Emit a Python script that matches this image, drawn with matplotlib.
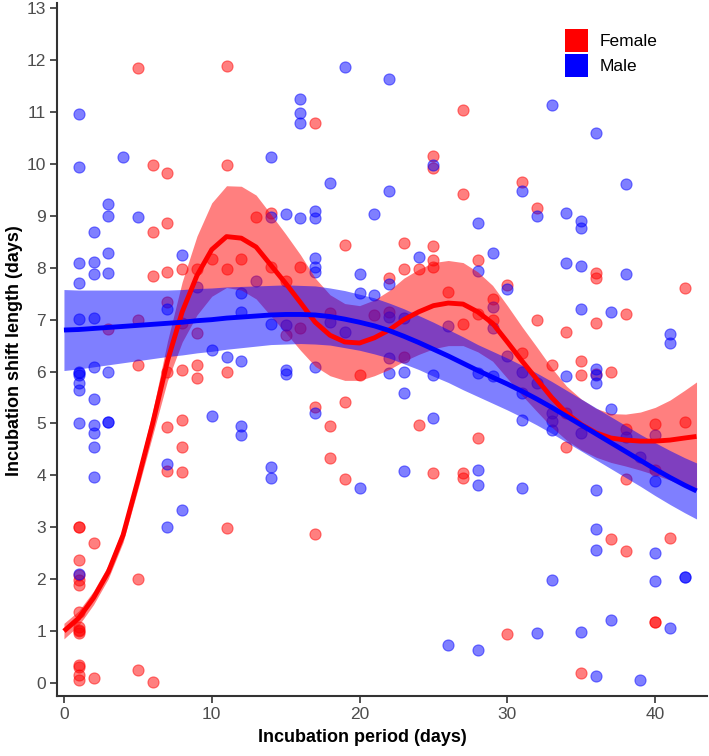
import matplotlib
matplotlib.use("Agg")
import matplotlib.pyplot as plt
from matplotlib.patches import Patch
import numpy as np

plt.rcParams["font.family"] = ["Liberation Sans", "DejaVu Sans"]

# scatter points: (incubation day, shift length)
female_x = [1, 1, 1, 1, 1, 1, 1, 1, 1, 1, 1, 1, 1, 1, 1,
            2, 2, 3, 5, 5, 5, 5, 5, 6, 6, 6, 6,
            7, 7, 7, 7, 7, 7, 7, 8, 8, 8, 8, 8, 8,
            9, 9, 9, 9, 10, 11, 11, 11, 11, 11, 12, 13, 14, 14,
            15, 15, 16, 16, 17, 17, 17, 18, 18, 18, 19, 19, 19,
            20, 21, 22, 22, 23, 23, 23, 24, 24,
            25, 25, 25, 25, 25, 25, 26, 27, 27, 27, 27, 27,
            28, 28, 28, 29, 29, 30, 30, 31, 31, 32, 32, 33,
            34, 34, 34, 35, 35, 35, 36, 36, 36, 36, 37, 37,
            38, 38, 38, 38, 40, 40, 40, 40, 41, 42, 42]
female_y = [3.0, 3.0, 2.37, 2.08, 1.98, 1.89, 1.37, 1.08, 1.02, 0.96, 1.0, 0.35, 0.3, 0.15, 0.06,
            2.7, 0.1, 6.82, 11.85, 7.0, 6.13, 2.0, 0.26, 9.98, 8.69, 7.84, 0.02,
            9.83, 8.86, 7.92, 7.34, 6.0, 4.93, 4.09, 7.97, 6.93, 6.03, 5.07, 4.55, 4.07,
            7.97, 6.74, 6.13, 5.88, 8.17, 11.89, 9.98, 7.97, 6.0, 2.99, 8.17, 8.98, 9.05, 8.02,
            7.75, 6.71, 8.02, 6.84, 10.79, 5.32, 2.87, 7.13, 4.95, 4.34, 8.44, 5.41, 3.93,
            5.93, 7.09, 7.8, 7.15, 8.48, 7.97, 6.28, 7.97, 4.97,
            10.15, 9.93, 8.42, 8.15, 8.02, 4.04, 7.53, 11.04, 9.42, 6.92, 4.04, 3.95,
            8.15, 7.1, 4.72, 7.4, 7.0, 7.67, 0.94, 9.66, 6.36, 9.15, 7.0, 6.12,
            6.77, 5.2, 4.55, 6.2, 5.93, 0.19, 7.9, 7.8, 6.94, 5.95, 6.0, 2.77,
            7.11, 3.93, 2.54, 4.89, 4.99, 1.18, 1.18, 4.1, 2.79, 7.61, 5.03]

male_x = [1, 1, 1, 1, 1, 1, 1, 1, 1, 1, 1, 1,
          2, 2, 2, 2, 2, 2, 2, 2, 2, 2,
          3, 3, 3, 3, 3, 3, 3, 4, 5, 7, 7, 7, 8, 8, 9, 10, 10, 11,
          12, 12, 12, 12, 12, 13, 14, 14, 14, 14, 14,
          15, 15, 15, 15, 16, 16, 16, 16,
          17, 17, 17, 17, 17, 17, 17, 18, 18, 19, 19, 20, 20, 20, 21, 21,
          22, 22, 22, 22, 22, 22, 23, 23, 23, 23, 24, 25, 25, 25, 26, 26,
          28, 28, 28, 28, 28, 28, 29, 29, 29, 29, 30, 30,
          31, 31, 31, 31, 31, 32, 32, 32, 33, 33, 33, 33, 33,
          34, 34, 34, 35, 35, 35, 35, 35, 35,
          36, 36, 36, 36, 36, 36, 36, 36, 37, 37, 37, 38, 38, 38,
          39, 39, 40, 40, 40, 40, 41, 41, 41, 42, 42]
male_y = [10.96, 9.94, 8.09, 7.7, 7.01, 6.0, 5.97, 5.93, 5.78, 5.65, 5.0, 2.1,
          8.68, 8.11, 7.88, 7.04, 6.09, 5.47, 4.97, 4.82, 4.55, 3.97,
          9.23, 9.0, 8.28, 7.9, 6.0, 5.03, 5.03, 10.13, 8.98, 7.2, 4.22, 3.0, 8.24, 3.33, 7.62, 6.42, 5.14, 6.28,
          7.52, 7.14, 6.2, 4.95, 4.78, 7.75, 10.13, 8.98, 6.91, 4.16, 3.95,
          9.03, 6.9, 6.03, 5.95, 11.26, 10.99, 10.78, 8.96,
          9.1, 8.95, 8.19, 8.02, 7.92, 6.08, 5.2, 9.63, 6.96, 11.86, 6.77, 7.87, 7.51, 3.76, 9.03, 7.47,
          11.63, 9.47, 7.68, 7.05, 6.26, 5.97, 7.03, 6.0, 5.58, 4.09, 8.21, 9.98, 5.93, 5.1, 6.88, 0.73,
          8.86, 7.93, 5.97, 4.1, 3.81, 0.64, 8.28, 7.24, 6.84, 5.92, 7.59, 6.3,
          9.48, 6.0, 5.58, 5.07, 3.76, 9.0, 5.78, 0.96, 11.13, 5.2, 5.05, 4.87, 1.98,
          9.06, 8.09, 5.92, 8.9, 8.76, 8.04, 7.21, 4.82, 0.98,
          10.6, 6.05, 5.93, 5.78, 3.72, 2.97, 2.56, 0.14, 7.15, 5.28, 1.21, 9.61, 7.88, 4.74,
          4.36, 0.06, 4.78, 3.89, 2.5, 1.97, 6.72, 6.55, 1.06, 2.04, 2.04]

# smooth fits (value and half width of the band)
fit_x = list(range(0, 43)) + [42.8]
female_fit = [1.0, 1.25, 1.64, 2.14, 2.85, 3.9, 5.0, 6.2, 7.15, 7.85, 8.35, 8.6, 8.57, 8.4, 8.05,
              7.7, 7.33, 6.95, 6.7, 6.57, 6.55, 6.65, 6.8, 7.0, 7.15, 7.27, 7.32, 7.3, 7.15,
              6.93, 6.57, 6.2, 5.85, 5.5, 5.2, 4.98, 4.82, 4.72, 4.68, 4.66, 4.66, 4.68, 4.72, 4.75]
female_se = [0.15, 0.14, 0.13, 0.13, 0.14, 0.17, 0.23, 0.38, 0.58, 0.76, 0.9, 0.98, 1.0, 1.0, 0.98,
             0.95, 0.92, 0.85, 0.78, 0.74, 0.72, 0.73, 0.76, 0.8, 0.82, 0.83, 0.82, 0.8, 0.77,
             0.73, 0.7, 0.66, 0.62, 0.57, 0.52, 0.49, 0.47, 0.47, 0.5, 0.56, 0.65, 0.77, 0.92, 1.05]
male_fit = [6.8, 6.81, 6.83, 6.85, 6.87, 6.89, 6.91, 6.93, 6.95, 6.98, 7.0, 7.03, 7.05, 7.07, 7.09,
            7.1, 7.1, 7.09, 7.06, 7.01, 6.95, 6.88, 6.79, 6.68, 6.56, 6.43, 6.3, 6.16, 6.02,
            5.89, 5.76, 5.62, 5.47, 5.31, 5.14, 4.97, 4.8, 4.63, 4.46, 4.29, 4.12, 3.96, 3.81, 3.7]
male_se = [0.78, 0.76, 0.74, 0.72, 0.7, 0.68, 0.66, 0.64, 0.63, 0.62, 0.61, 0.6, 0.59, 0.58, 0.57,
           0.57, 0.56, 0.56, 0.55, 0.55, 0.54, 0.54, 0.53, 0.53, 0.52, 0.52, 0.51, 0.51, 0.5,
           0.5, 0.5, 0.5, 0.5, 0.5, 0.5, 0.5, 0.5, 0.5, 0.5, 0.5, 0.51, 0.52, 0.53, 0.54]

fig = plt.figure(figsize=(7.09, 7.56), dpi=100)
ax = fig.add_axes([0.0804, 0.0794, 0.9166, 0.9166])

ax.scatter(female_x, female_y, s=64, color="red", alpha=0.5, edgecolors="red",
           linewidths=0.8, zorder=1)
ax.scatter(male_x, male_y, s=64, color="blue", alpha=0.5, edgecolors="blue",
           linewidths=0.8, zorder=1)

fx = np.array(fit_x)
ff, fs = np.array(female_fit), np.array(female_se)
mf, ms = np.array(male_fit), np.array(male_se)
ax.fill_between(fx, ff - fs, ff + fs, color="red", alpha=0.5, lw=0, zorder=2)
ax.fill_between(fx, mf - ms, mf + ms, color="blue", alpha=0.5, lw=0, zorder=2)
ax.plot(fx, ff, color="red", lw=3.5, zorder=3, solid_capstyle="butt", solid_joinstyle="round")
ax.plot(fx, mf, color="blue", lw=3.5, zorder=3, solid_capstyle="butt", solid_joinstyle="round")

ax.set_xlim(-0.47, 43.5)
ax.set_ylim(-0.25, 13.1)
ax.set_xticks([0, 10, 20, 30, 40])
ax.set_yticks(range(0, 14))
ax.tick_params(labelsize=12.5, colors="#4d4d4d", length=5, width=1.2, pad=3)
ax.tick_params(axis="both", color="#333333")
for side in ["top", "right"]:
    ax.spines[side].set_visible(False)
for side in ["left", "bottom"]:
    ax.spines[side].set_linewidth(1.5)
    ax.spines[side].set_color("#333333")

ax.set_xlabel("Incubation period (days)", fontsize=13, fontweight="bold")
ax.set_ylabel("Incubation shift length (days)", fontsize=13, fontweight="bold")
ax.xaxis.set_label_coords(0.47, -0.047)
ax.yaxis.set_label_coords(-0.053, 0.498)

handles = [Patch(facecolor="red", edgecolor="none", label="Female"),
           Patch(facecolor="blue", edgecolor="none", label="Male")]
fig.legend(handles=handles, loc="upper left", bbox_to_anchor=(0.785, 0.973), frameon=False,
           fontsize=12.5, handlelength=1.3, handleheight=1.65, handletextpad=0.7,
           labelspacing=0.12, borderpad=0)

fig.savefig("out.png", dpi=100)
